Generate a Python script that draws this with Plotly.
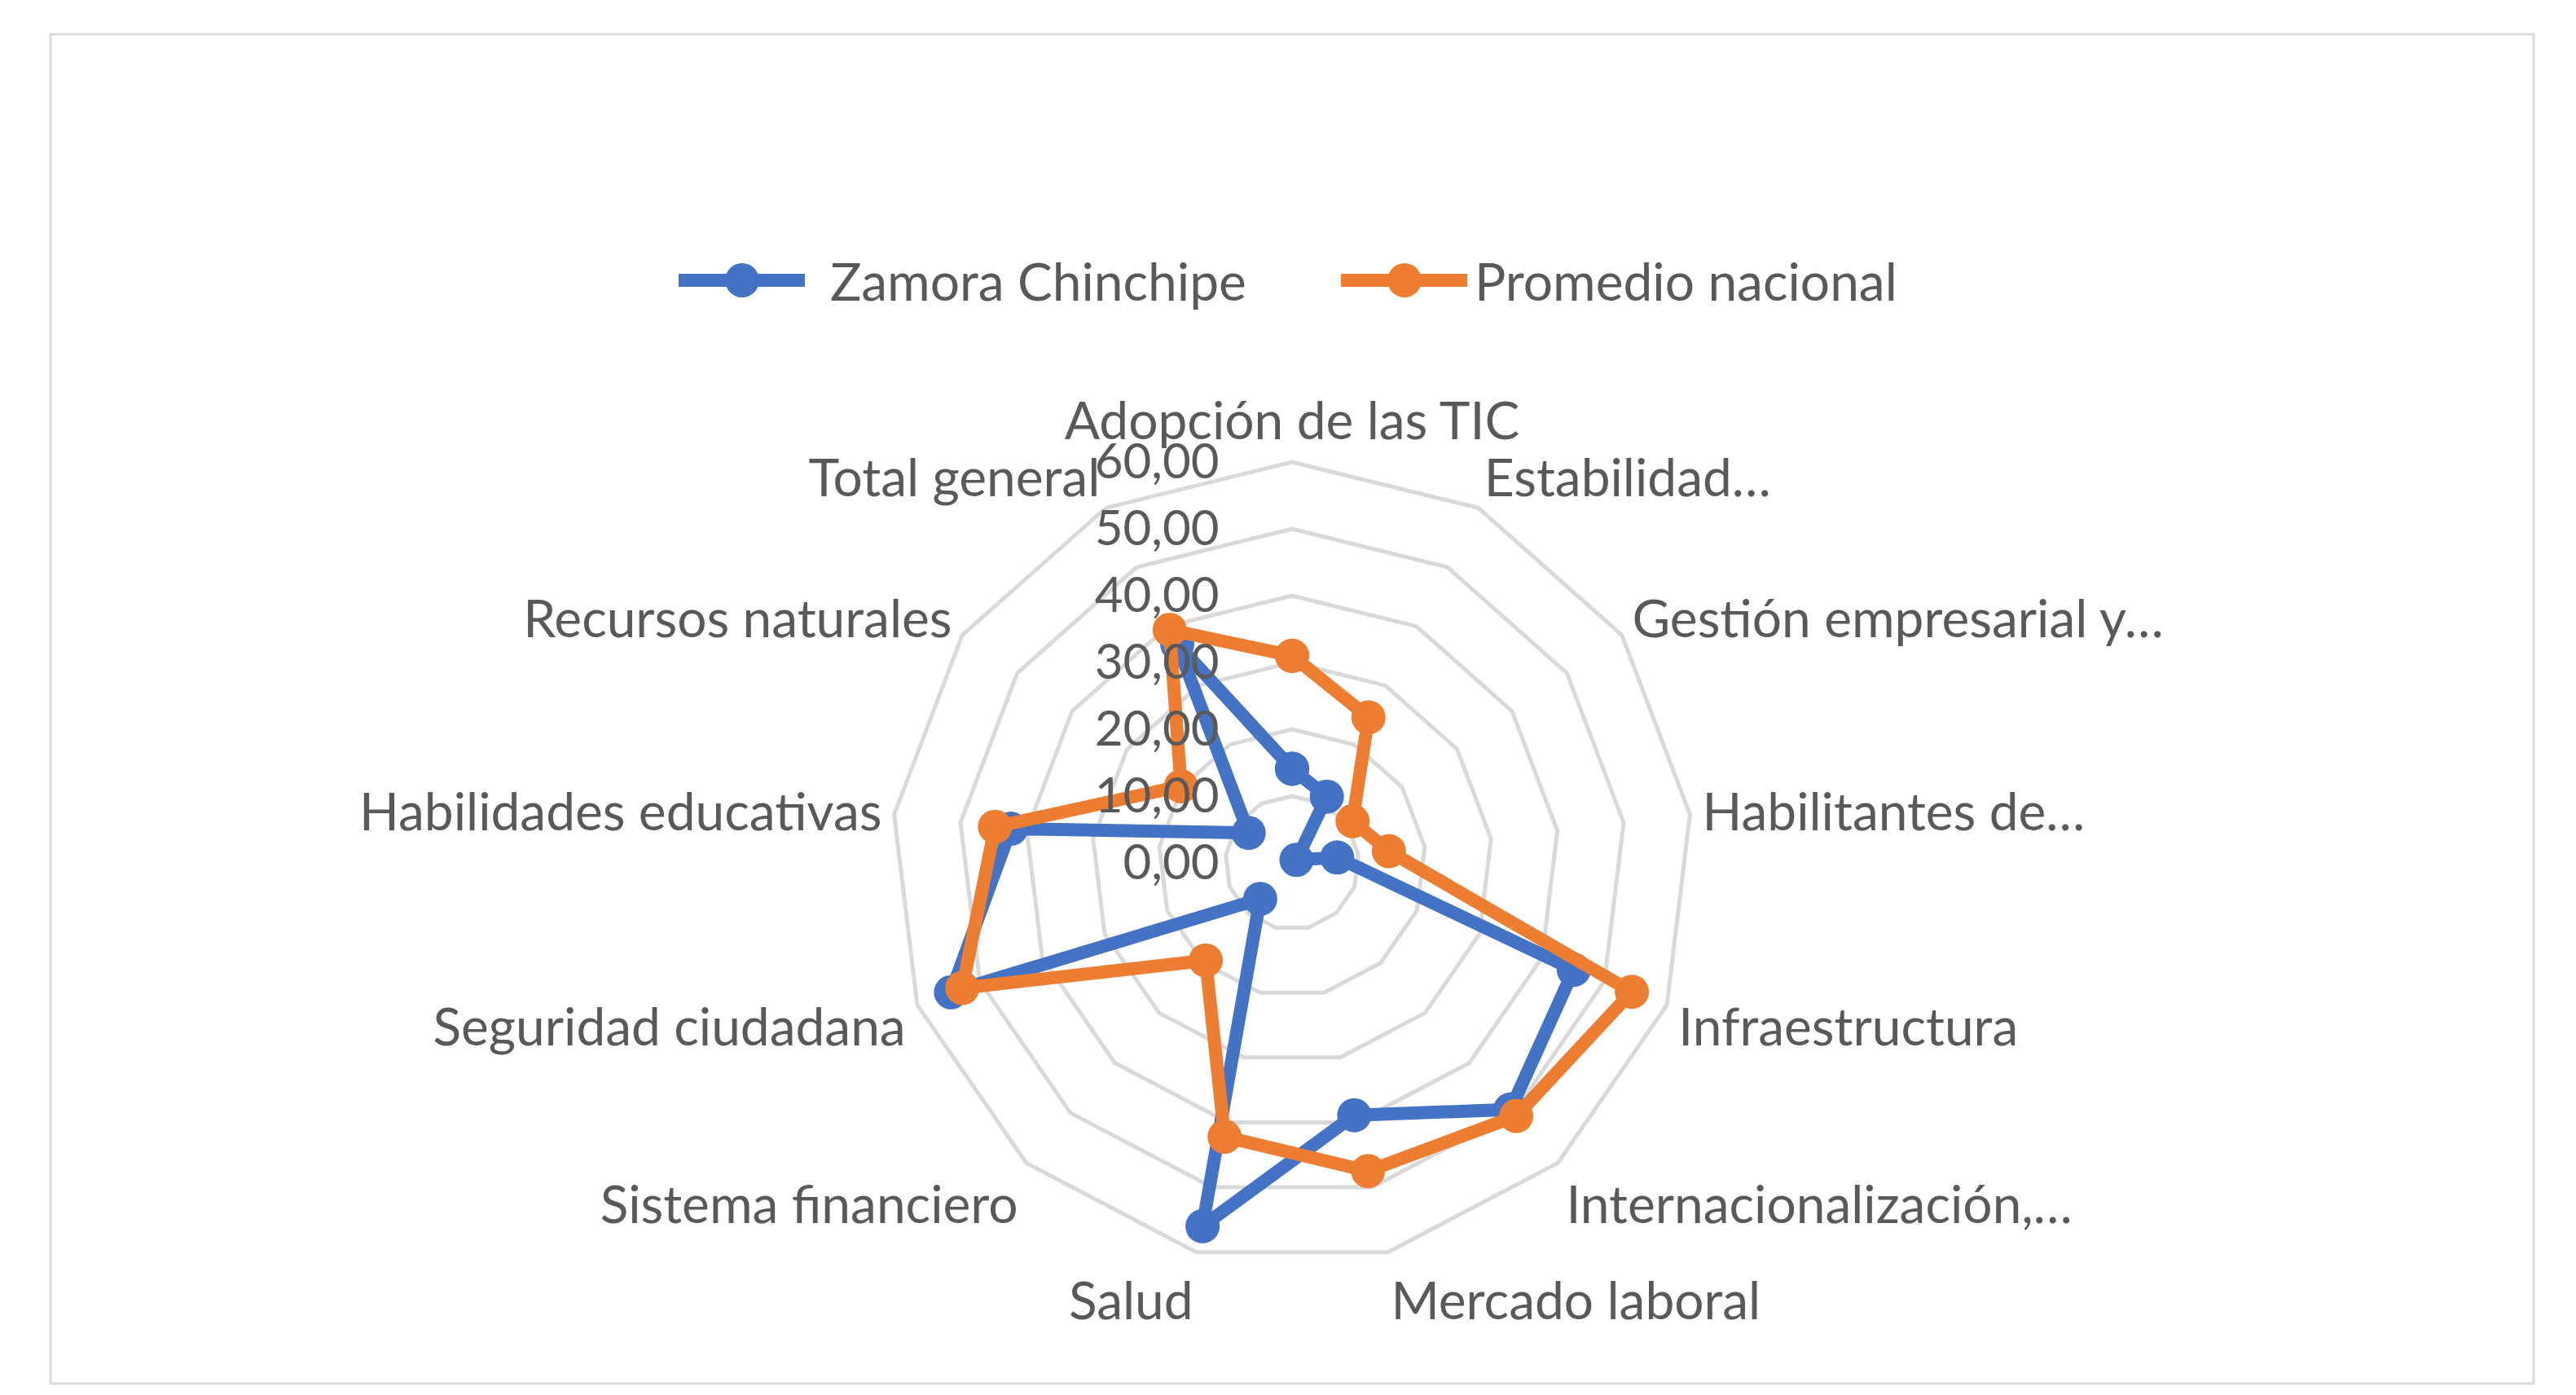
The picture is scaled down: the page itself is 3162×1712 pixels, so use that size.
import plotly.graph_objects as go

# Categorías (en el orden del gráfico, sentido horario desde arriba)
categorias = [
    "Adopción de las TIC",
    "Estabilidad…",
    "Gestión empresarial y…",
    "Habilitantes de…",
    "Infraestructura",
    "Internacionalización,…",
    "Mercado laboral",
    "Salud",
    "Sistema financiero",
    "Seguridad ciudadana",
    "Habilidades educativas",
    "Recursos naturales",
    "Total general",
]

zamora = [14.1, 11.2, 0.8, 6.8, 45.1, 49.3, 38.9, 56.0, 7.2, 54.6, 42.4, 7.9, 37.0]
promedio = [31.0, 24.6, 11.0, 14.6, 54.4, 50.6, 47.5, 42.2, 19.5, 52.8, 44.8, 20.2, 39.4]

radial_ticks = [0, 10, 20, 30, 40, 50, 60]

series = ["Zamora Chinchipe", "Promedio nacional"]

AZUL = "#4472C4"
NARANJA = "#ED7D31"
TEXTO = "#595959"
GRIS = "#D9D9D9"
FUENTE = "Lato, 'Open Sans', sans-serif"

W, H = 3162, 1712


def cerrar(lista):
    # cerrar el polígono repitiendo el primer punto
    return list(lista) + [lista[0]]


def px(x):
    return x / W


def py(y):
    return 1 - y / H


fig = go.Figure()

for nombre, valores, color in [(series[0], zamora, AZUL), (series[1], promedio, NARANJA)]:
    fig.add_trace(go.Scatterpolar(
        r=cerrar(valores),
        theta=cerrar(categorias),
        mode="lines+markers",
        name=nombre,
        line=dict(color=color, width=16),
        marker=dict(color=color, size=42),
        showlegend=False,
    ))

# Geometría del radar en píxeles
cx, cy, R = 1578, 1051, 492

# Leyenda dibujada a mano (símbolos grandes como en Excel)
shapes = [
    dict(
        type="rect", xref="paper", yref="paper",
        x0=px(54), x1=px(3102), y0=py(1690), y1=py(34),
        line=dict(color=GRIS, width=3),
    )
]
annotations = []
ley_y = 336
for nombre, color, x_ini, x_txt in [(series[0], AZUL, 825, 1009), (series[1], NARANJA, 1638, 1800)]:
    shapes.append(dict(
        type="line", xref="paper", yref="paper",
        x0=px(x_ini), x1=px(x_ini + 155), y0=py(ley_y), y1=py(ley_y),
        line=dict(color=color, width=16),
    ))
    xc = x_ini + 78
    shapes.append(dict(
        type="circle", xref="paper", yref="paper",
        x0=px(xc - 21), x1=px(xc + 21), y0=py(ley_y + 21), y1=py(ley_y - 21),
        fillcolor=color, line=dict(color=color, width=0),
    ))
    annotations.append(dict(
        text=nombre, xref="paper", yref="paper",
        x=px(x_txt), y=py(ley_y), xanchor="left", yanchor="middle",
        showarrow=False, font=dict(family=FUENTE, size=64, color=TEXTO),
    ))

fig.update_layout(
    width=W,
    height=H,
    margin=dict(l=0, r=0, t=0, b=0),
    paper_bgcolor="white",
    plot_bgcolor="white",
    separators=",.",
    font=dict(family=FUENTE, size=64, color=TEXTO),
    showlegend=False,
    polar=dict(
        domain=dict(
            x=[px(cx - R), px(cx + R)],
            y=[py(cy + R), py(cy - R)],
        ),
        bgcolor="white",
        gridshape="linear",
        radialaxis=dict(
            range=[0, 60],
            tickvals=radial_ticks,
            tickformat=".2f",
            angle=90,
            tickangle=90,
            side="counterclockwise",
            showline=False,
            ticks="outside",
            ticklen=68,
            tickcolor="rgba(0,0,0,0)",
            gridcolor=GRIS,
            gridwidth=5,
            tickfont=dict(size=60, color=TEXTO),
        ),
        angularaxis=dict(
            rotation=90,
            direction="clockwise",
            showgrid=False,
            showline=True,
            linecolor=GRIS,
            linewidth=5,
            ticks="",
            tickfont=dict(size=64, color=TEXTO),
        ),
    ),
    shapes=shapes,
    annotations=annotations,
)

fig.write_html("out.html")
